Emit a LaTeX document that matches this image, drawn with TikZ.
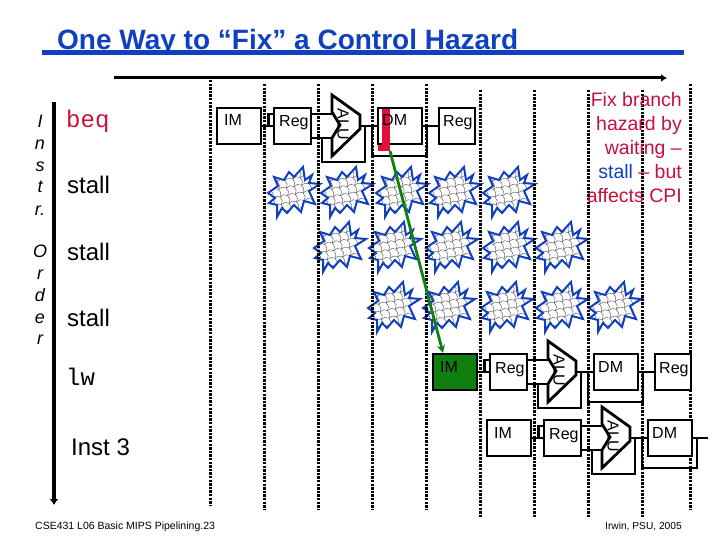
\documentclass[tikz,border=0pt]{standalone}
\usepackage{fontspec}
\setmainfont{Liberation Sans}
\newfontfamily\codefont{Liberation Mono}
\usetikzlibrary{arrows.meta,calc}
\definecolor{titleblue}{HTML}{1040C0}
\definecolor{crimsonred}{HTML}{C8103C}
\definecolor{barred}{HTML}{E0103C}
\definecolor{stagegreen}{HTML}{0F8010}
\newcommand{\szf}[1]{\fontsize{#1}{#1}\selectfont}
\tikzset{
  stagebox/.style={draw=black,fill=white,line width=2.8pt,minimum height=36pt,inner sep=0pt},
  wire/.style={draw=black,line width=2.8pt,line join=miter},
  stagetext/.style={inner sep=0pt,anchor=base west,font=\szf{16}},
  lefttext/.style={inner sep=0pt,anchor=base west,font=\szf{24}},
  ordertext/.style={inner sep=0pt,anchor=base,font=\szf{18}\itshape},
  fixtext/.style={inner sep=0pt,anchor=base east,font=\szf{19.5},text=crimsonred},
  foottext/.style={inner sep=0pt,anchor=base west},
  gridline/.style={draw=black,line width=3pt,dash pattern=on 2.4pt off 1.2pt},
  scaleline/.style={draw=black!70,line width=0.4pt},
}
\def\blastpath{(-24,1) -- (-14,-6) -- (-18,-15) -- (-8,-12) -- (-3,-20) -- (2,-15) -- (11,-25) -- (13,-12) -- (20,-17) -- (17,-9) -- (28,-8) -- (17,-1) -- (23,12) -- (12,9) -- (9,20) -- (2,13) -- (-5,21) -- (-10,16) -- (-15,25) -- (-15,13) -- (-23,11) -- (-17,6) -- cycle}
\newcommand{\blast}[2]{%
  \begin{scope}[shift={(#1,#2)}]
    \fill[white] \blastpath;
    \begin{scope}
      \clip \blastpath;
      \begin{scope}[rotate=-35]
        \foreach \j in {0,...,12}{\foreach \i in {0,...,7}{%
          \draw[scaleline] ({-40+\i*11+mod(\j,2)*5.5},{-33+\j*5.5}) arc[start angle=180,end angle=360,radius=5.5];}}
      \end{scope}
    \end{scope}
    \draw[draw=titleblue,line width=2pt,line join=miter,miter limit=4] \blastpath;
  \end{scope}}
% #1 id, #2 dx, #3 dy, #4 IM fill
\newcommand{\stagerow}[4]{%
  \begin{scope}[shift={(#2,#3)}]
    \node[stagebox,minimum width=44pt,fill=#4] (im#1) at (239,126) {};
    \node[stagebox,minimum width=37pt] (reg#1) at (292.5,126) {};
    \node[stagebox,minimum width=44pt] (dm#1) at (400,126) {};
    \coordinate (alua#1) at (332,114);
    \coordinate (alub#1) at (332,138);
    \coordinate (aluo#1) at (360,122);
    \coordinate (brk#1) at (267,114);
    \coordinate (lpa#1) at (322,162);
    \coordinate (lpb#1) at (365,162);
    \coordinate (lpc#1) at (372,156);
    \coordinate (lpd#1) at (427,156);
    \draw[wire] (im#1.east) -- (reg#1.west);
    \draw[wire] ($(im#1.east)+(6,0)$) |- (brk#1) -- (reg#1.west |- brk#1);
    \draw[wire] (reg#1.east |- alua#1) -- (alua#1);
    \draw[wire] (reg#1.east |- alub#1) -- (alub#1);
    \draw[wire] (lpa#1 |- alub#1) -- (lpa#1) -- (lpb#1) -- (lpb#1 |- dm#1.west);
    \draw[wire] (aluo#1 |- dm#1.west) -- (dm#1.west);
    \draw[wire] (lpc#1 |- dm#1.west) -- (lpc#1) -- (lpd#1) -- (lpd#1 |- dm#1.east);
    \draw[wire,fill=white] (332,95) -- (360,115) -- (360,129) -- (332,156) -- (332,138) -- (340,125) -- (332,112) -- cycle;
    \node[inner sep=0pt,rotate=-90,font=\szf{16}] (alutext#1) at (343,124) {ALU};
  \end{scope}}
\newcommand{\stagelabels}[3]{%
  \begin{scope}[shift={(#2,#3)}]
    \node[stagetext] (imtext#1) at (224,126) {IM};
    \node[stagetext] (regtext#1) at (279,127) {Reg};
    \node[stagetext] (dmtext#1) at (382,126) {DM};
  \end{scope}}
\begin{document}
\begin{tikzpicture}[x=1pt,y=-1pt]
\useasboundingbox (0,0) rectangle (720,540);
\fill[white] (0,0) rectangle (720,540);
% title
\node[inner sep=0pt,anchor=base west,font=\szf{28}\bfseries,text=titleblue] (title) at (57,49.5) {One Way to “Fix” a Control Hazard};
\coordinate (ula) at (42,53);
\coordinate (ulb) at (684,53);
\draw[draw=titleblue,line width=5pt] (ula) -- (ulb);
% axes
\coordinate (timea) at (114,78);
\coordinate (timeb) at (667,78);
\draw[line width=3pt,-{Latex[length=6pt,width=8pt]}] (timea) -- (timeb);
\coordinate (orda) at (54,102);
\coordinate (ordb) at (54,505);
\draw[line width=4pt,-{Latex[length=6pt,width=9pt]}] (orda) -- (ordb);
% stall bubbles
\foreach \x in {292,345,400,453,507}{\blast{\x}{192}}
\foreach \x in {338,393,450,507,560}{\blast{\x}{247}}
\foreach \x in {392,447,505,560,613}{\blast{\x}{307}}
% clock grid
\draw[gridline] (210,80) -- (210,505);
\foreach \x in {264,318,372,426}{\draw[gridline] (\x,84) -- (\x,510);}
\foreach \x in {480,534,588,642}{\draw[gridline] (\x,90) -- (\x,517);}
\draw[gridline] (690,84) -- (690,510);
% pipeline rows
\stagerow{a}{0}{0}{white}
\node[stagebox,minimum width=36pt] (regwa) at (457,126) {};
\draw[wire] (dma.east) -- (regwa.west);
\stagerow{b}{216}{246}{stagegreen}
\node[stagebox,minimum width=36pt] (regwb) at (673,372) {};
\draw[wire] (dmb.east) -- (regwb.west);
\stagerow{c}{270}{312}{white}
\coordinate (stubc) at (708,438);
\draw[wire] (dmc.east) -- (stubc);
% red bar and green arrow
\fill[barred] (381.5,109) rectangle (390,146);
\node[fill=barred,inner sep=0pt,minimum width=12pt,minimum height=6pt,anchor=south east] (redbar) at (390,151) {};
\coordinate (greenend) at (443,353);
\draw[draw=stagegreen,line width=2.8pt,-{Stealth[length=8pt,width=8pt]}] (redbar.south east) -- (greenend);
% stage text
\stagelabels{a}{0}{0}
\node[stagetext] (regwta) at (443,127) {Reg};
\stagelabels{b}{216}{246}
\node[stagetext] (regwtb) at (659,373) {Reg};
\stagelabels{c}{270}{312}
% left labels
\node[lefttext,font=\szf{24}\codefont,text=crimsonred] (beq) at (66,128) {beq};
\node[lefttext] (stalla) at (67,194) {stall};
\node[lefttext] (stallb) at (67,260) {stall};
\node[lefttext] (stallc) at (67,326) {stall};
\node[lefttext,font=\szf{24}\codefont] (lw) at (66,385) {lw};
\node[lefttext] (inst) at (71,455) {Inst 3};
% order letters
\node[ordertext] (o1) at (40,128) {I};
\node[ordertext] (o2) at (40,150) {n};
\node[ordertext] (o3) at (40,172) {s};
\node[ordertext] (o4) at (40,193) {t};
\node[ordertext] (o5) at (40,215) {r.};
\node[ordertext] (o6) at (40,258) {O};
\node[ordertext] (o7) at (40,279) {r};
\node[ordertext] (o8) at (40,301) {d};
\node[ordertext] (o9) at (40,323) {e};
\node[ordertext] (o10) at (40,344) {r};
% note
\node[fixtext] (fa) at (682,107) {Fix branch};
\node[fixtext] (fb) at (682,131) {hazard by};
\node[fixtext] (fc) at (682,155) {waiting –};
\node[fixtext] (fd) at (682,179) {{\color{titleblue}stall} – but};
\node[fixtext] (fe) at (682,203) {affects CPI};
% footer
\node[foottext,font=\szf{10.5}] (fl) at (35,529) {CSE431  L06 Basic MIPS Pipelining.23};
\node[foottext,font=\szf{10.2}] (fr) at (605,529) {Irwin, PSU, 2005};
\end{tikzpicture}
\end{document}
